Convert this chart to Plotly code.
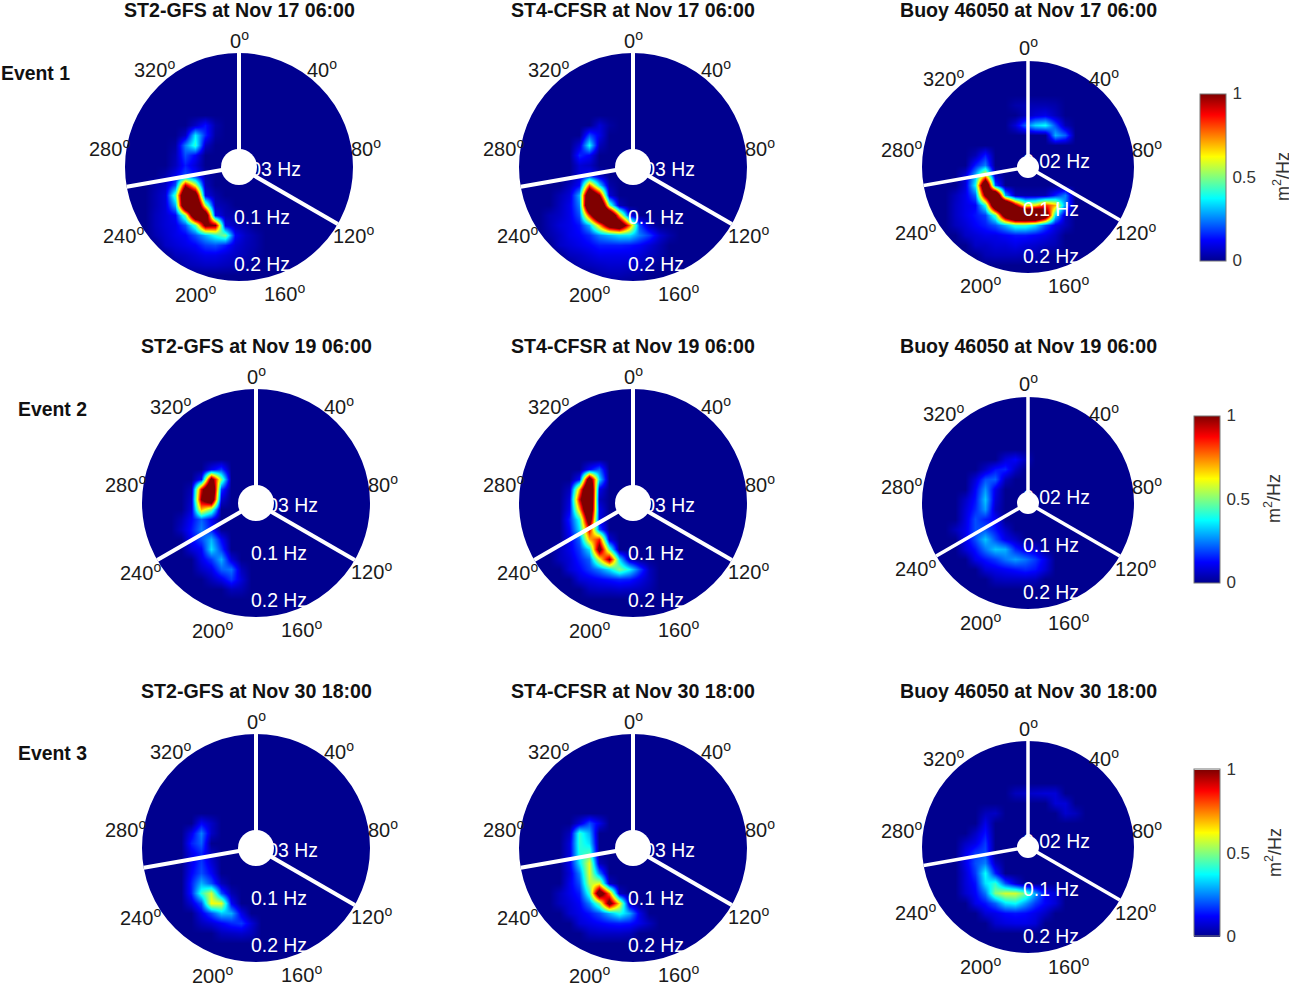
import math
import plotly.graph_objects as go

W, H = 1289, 984
GRID = 24          # cells per side of each spectrum map
CELL = 10          # figure pixels per cell

TITLES_ROW = ["Nov 17 06:00", "Nov 19 06:00", "Nov 30 18:00"]
SOURCES = ["ST2-GFS", "ST4-CFSR", "Buoy 46050"]
EVENTS = ["Event 1", "Event 2", "Event 3"]
ANGLE_LABELS = [0, 40, 80, 120, 160, 200, 240, 280, 320]

# Energy (percent of 1 m2/Hz): (row, first column, values)
P11 = [(7,7,[6,14,3]),(8,6,[6,36,16,2]),(9,5,[2,25,42,6]),(10,5,[4,20,12]),(11,5,[5,15,8]),
       (12,4,[3,10,20,14,3]),(13,3,[3,6,20,95,60,5]),(14,3,[4,8,45,140,120,10,3]),
       (15,3,[4,8,30,140,145,55,5,3]),(16,3,[5,8,12,50,135,125,12,4,3]),
       (17,3,[5,8,10,20,45,105,100,10,5,3]),(18,3,[4,7,10,12,20,30,40,50,12,6,3]),
       (19,4,[6,8,10,12,18,20,15,8,5,3]),(20,5,[5,6,8,10,10,8,6,4,2]),(21,6,[4,5,6,6,5,4,2])]
P12 = [(7,8,[8,2]),(8,7,[20,10]),(9,6,[8,38,5]),(10,6,[16,12]),(11,6,[8,6]),(12,6,[8,12,5]),
       (13,5,[5,12,80,35,3]),(14,4,[4,8,30,140,100,8]),(15,4,[5,10,25,150,150,50,5]),
       (16,3,[4,6,10,20,85,150,145,70,12]),(17,3,[4,8,10,14,30,70,115,130,80,20,5]),
       (18,3,[3,6,10,12,16,25,30,35,35,25,18,8,3]),(19,4,[6,8,10,12,15,15,15,14,12,8,4]),
       (20,5,[5,6,8,10,10,10,10,8,5,3]),(21,6,[4,5,6,7,7,6,5,3]),(22,8,[3,4,4,3,2])]
P13 = [(5,10,[3,4,4,4,3]),(6,11,[4,8,10,5]),(7,10,[8,22,34,38,20,4]),(8,14,[30,22]),
       (10,6,[4,15]),(11,6,[15,25]),(12,5,[8,30,65,5]),(13,5,[8,38,140,20]),
       (14,4,[5,10,22,105,150,30,4,3,3,4,15,25]),(15,4,[6,10,12,40,135,160,100,60,65,85,70,25]),
       (16,4,[6,10,14,18,45,120,160,165,165,125,35,6]),
       (17,4,[5,8,12,15,20,30,42,42,35,20,10,5]),(18,5,[6,8,10,10,12,14,14,12,10,6]),
       (19,6,[6,6,8,8,10,8,7,5,4]),(20,7,[4,5,5,5,4,4])]
P21 = [(8,7,[10,18]),(9,6,[12,110,50]),(10,5,[4,90,140,18]),(11,5,[6,100,130,8]),(12,5,[8,70,50]),
       (13,4,[4,12,22,12]),(14,4,[6,14,25,14]),(15,5,[12,20,30,12]),(16,5,[8,12,35,18]),
       (17,6,[10,18,30,8]),(18,6,[6,10,22,24,5]),(19,7,[5,10,18,8]),(20,9,[5,4])]
P22 = [(8,7,[12,22]),(9,6,[12,120,35]),(10,5,[5,70,150,10]),(11,5,[8,90,150,5]),(12,5,[10,70,140,10]),
       (13,5,[15,40,120,10]),(14,5,[12,35,90,20]),(15,5,[10,22,70,85,8]),(16,4,[5,10,18,35,110,45]),
       (17,4,[5,8,15,22,60,100,35,5]),(18,5,[8,12,18,25,35,50,38,20,5]),
       (19,6,[8,10,12,14,16,15,10,5]),(20,7,[5,6,6,7,6,5,3])]
P23 = [(7,9,[8,12,5]),(8,7,[6,14,16,6]),(9,6,[8,20,22,5]),(10,6,[12,27,10]),(11,5,[6,14,32,8]),
       (12,5,[8,16,28,6]),(13,5,[9,20,15,12]),(14,4,[5,10,20,20,14,6]),(15,5,[10,20,32,20,10,6]),
       (16,5,[8,14,24,32,30,16,10,8]),(17,6,[10,14,18,24,28,24,18,10]),(18,7,[8,10,12,14,16,14,8]),
       (19,8,[5,6,6,6,5])]
P31 = [(9,6,[12,6]),(10,5,[10,25,6]),(11,5,[15,22]),(12,5,[10,16,5]),(13,5,[10,18,8]),(14,5,[12,20,12]),
       (15,5,[15,30,20,5]),(16,5,[15,42,58,20,4]),(17,5,[8,20,62,60,12]),(18,6,[10,20,32,30,10]),
       (19,6,[5,8,12,16,18,8]),(20,8,[5,6,7,5])]
P32 = [(9,6,[8,20,10]),(10,5,[5,42,30]),(11,5,[8,42,35]),(12,5,[8,40,45]),(13,5,[10,35,60,5]),
       (14,5,[8,25,60,25]),(15,5,[10,20,55,60,6]),(16,4,[5,10,15,42,120,75,6]),
       (17,4,[5,8,12,25,50,110,65,6]),(18,5,[7,10,14,20,30,40,30,10]),(19,6,[8,10,12,14,15,14,10,5]),
       (20,7,[5,6,6,6,5])]
P33 = [(6,10,[5,6,7,8,8]),(7,14,[8,8]),(8,7,[5,6]),(8,15,[7,5]),(9,7,[10]),(10,6,[6,14]),(11,5,[6,10,18]),
       (12,5,[10,18,20]),(13,5,[10,20,25,6]),(14,5,[8,18,38,15]),(15,5,[8,14,35,42,20,8]),
       (16,5,[7,12,24,50,58,58,48,28,12,8]),(17,6,[10,14,22,35,38,28,18,12,8]),
       (18,7,[8,10,13,14,13,10,6]),(19,8,[7,9,10,10,8])]

SPECTRA = [P11, P12, P13, P21, P22, P23, P31, P32, P33]

# Left / top of each map, disk centre, disk radius, hole radius (figure pixels)
ORIGIN_X = [[120, 514, 910], [136, 514, 910], [136, 514, 910]]
ORIGIN_Y = [50, 384, 728]
CENTER_X = [[239, 633, 1028], [256, 633, 1028], [256, 633, 1028]]
CENTER_Y = [[167, 167, 167], [503, 503, 503], [848, 848, 847]]
RADIUS = [114, 114, 106]
HOLE = [18, 18, 11]
# Directions of the three white spokes in each event
SPOKES = [[0, 120, 260], [0, 120, 240], [0, 120, 260]]

# Label offsets from the disk centre
LABEL_DX = [[0, 83, 127, 115, 45, -44, -116, -130, -85], [0, 83, 127, 115, 45, -44, -116, -130, -85],
            [0, 76, 119, 107, 40, -48, -112, -127, -85]]
LABEL_DY = [[-128, -98, -20, 67, 125, 126, 68, -20, -98], [-128, -98, -20, 67, 125, 126, 68, -20, -98],
            [-120, -90, -18, 64, 118, 118, 64, -18, -90]]
FREQ_TEXT = [["0.03 Hz", "0.1 Hz", "0.2 Hz"], ["0.03 Hz", "0.1 Hz", "0.2 Hz"], ["0.02 Hz", "0.1 Hz", "0.2 Hz"]]
FREQ_DY = [[2, 50, 97], [2, 50, 97], [-6, 42, 89]]

TITLE_Y = [10, 346, 691]
EVENT_X = [35, 52, 52]
EVENT_Y = [73, 409, 753]
CBAR_X = [1200, 1194, 1194]
CBAR_Y = [177, 499, 853]
CBAR_TITLE_X = [1281, 1273, 1273]

JET = [[0, "rgb(0,0,143)"], [0.125, "rgb(0,0,255)"], [0.375, "rgb(0,255,255)"],
       [0.625, "rgb(255,255,0)"], [0.875, "rgb(255,0,0)"], [1, "rgb(128,0,0)"]]
FONT = "Liberation Sans, Arial, sans-serif"


def fx(x):
    return x / W


def fy(y):
    return 1 - y / H


def note(x, y, text, size=17, color="#1a1a1a", bold=False, anchor="center", angle=0):
    return dict(xref="paper", yref="paper", x=fx(x), y=fy(y), text=f"<b>{text}</b>" if bold else text,
                showarrow=False, xanchor=anchor, yanchor="middle", textangle=angle,
                font=dict(family=FONT, size=size, color=color))


def expand(sparse):
    z = [[0.0] * GRID for _ in range(GRID)]
    for row, first, values in sparse:
        for k, v in enumerate(values):
            z[row][first + k] = v / 100
    return z


fig = go.Figure()
shapes, notes, layout = [], [], {}
centers = [c + 0.5 for c in range(GRID)]

for r in range(3):
    for c in range(3):
        n = r * 3 + c + 1
        ox, oy = ORIGIN_X[r][c], ORIGIN_Y[r]
        cx, cy = CENTER_X[r][c], CENTER_Y[r][c]
        rad, hole = RADIUS[c], HOLE[c]
        suffix = "" if n == 1 else str(n)
        layout[f"xaxis{suffix}"] = dict(domain=[fx(ox), fx(ox + GRID * CELL)], range=[0, GRID], visible=False,
                                        anchor=f"y{suffix}", fixedrange=True)
        layout[f"yaxis{suffix}"] = dict(domain=[fy(oy + GRID * CELL), fy(oy)], range=[GRID, 0], visible=False,
                                        anchor=f"x{suffix}", fixedrange=True)
        hm = dict(x=centers, y=centers, z=expand(SPECTRA[n - 1]), zmin=0, zmax=1, colorscale=JET,
                  zsmooth="best", xaxis=f"x{suffix}", yaxis=f"y{suffix}", hoverinfo="skip", showscale=False)
        if c == 2:
            hm.update(showscale=True, colorbar=dict(
                x=fx(CBAR_X[r]), xanchor="left", y=fy(CBAR_Y[r]), yanchor="middle", len=167, lenmode="pixels",
                thickness=26, thicknessmode="pixels", xpad=0, ypad=0, outlinecolor="#777777", outlinewidth=1,
                tickvals=[0, 0.5, 1], ticktext=["0", "0.5", "1"], ticks="outside", ticklen=3,
                tickcolor="rgba(0,0,0,0)",
                tickfont=dict(family=FONT, size=17, color="#333333")))
        fig.add_trace(go.Heatmap(**hm))

        # spokes, from disk centre to rim, in map units
        for ang in SPOKES[r]:
            a = math.radians(ang)
            x0 = (cx - ox) / CELL
            y0 = (cy - oy) / CELL
            fig.add_trace(go.Scatter(x=[x0, x0 + rad / CELL * math.sin(a)], y=[y0, y0 - rad / CELL * math.cos(a)],
                                     mode="lines", line=dict(color="white", width=4 if c < 2 else 3.5),
                                     xaxis=f"x{suffix}", yaxis=f"y{suffix}", hoverinfo="skip", showlegend=False))

        # white mask outside the disk and centre hole
        mask = 68
        mr = rad + mask / 2
        shapes.append(dict(type="circle", xref="paper", yref="paper", layer="above",
                           x0=fx(cx - mr), x1=fx(cx + mr), y0=fy(cy + mr), y1=fy(cy - mr),
                           line=dict(color="white", width=mask), fillcolor="rgba(0,0,0,0)"))
        shapes.append(dict(type="circle", xref="paper", yref="paper", layer="above",
                           x0=fx(cx - hole), x1=fx(cx + hole), y0=fy(cy + hole), y1=fy(cy - hole),
                           line=dict(width=0), fillcolor="white"))

        notes.append(note(cx, TITLE_Y[r], f"{SOURCES[c]} at {TITLES_ROW[r]}", size=19.6, color="#111111", bold=True))
        for lab, dx, dy in zip(ANGLE_LABELS, LABEL_DX[c], LABEL_DY[c]):
            notes.append(note(cx + dx, cy + dy, f"{lab}<sup>o</sup>", size=20))
        for txt, dy in zip(FREQ_TEXT[c], FREQ_DY[c]):
            notes.append(note(cx - 7, cy + dy, txt, size=19.4, color="white", anchor="left"))

for r in range(3):
    notes.append(note(EVENT_X[r], EVENT_Y[r], EVENTS[r], size=19.4, color="#111111", bold=True))
    notes.append(note(CBAR_TITLE_X[r], CBAR_Y[r], "m<sup>2</sup>/Hz", size=18, color="#333333", angle=-90))

fig.update_layout(width=W, height=H, margin=dict(l=0, r=0, t=0, b=0), paper_bgcolor="white",
                  plot_bgcolor="white", showlegend=False, shapes=shapes, annotations=notes, **layout)
fig.write_html("out.html", config={"displayModeBar": False},
               post_script="document.body.style.margin='0';")
